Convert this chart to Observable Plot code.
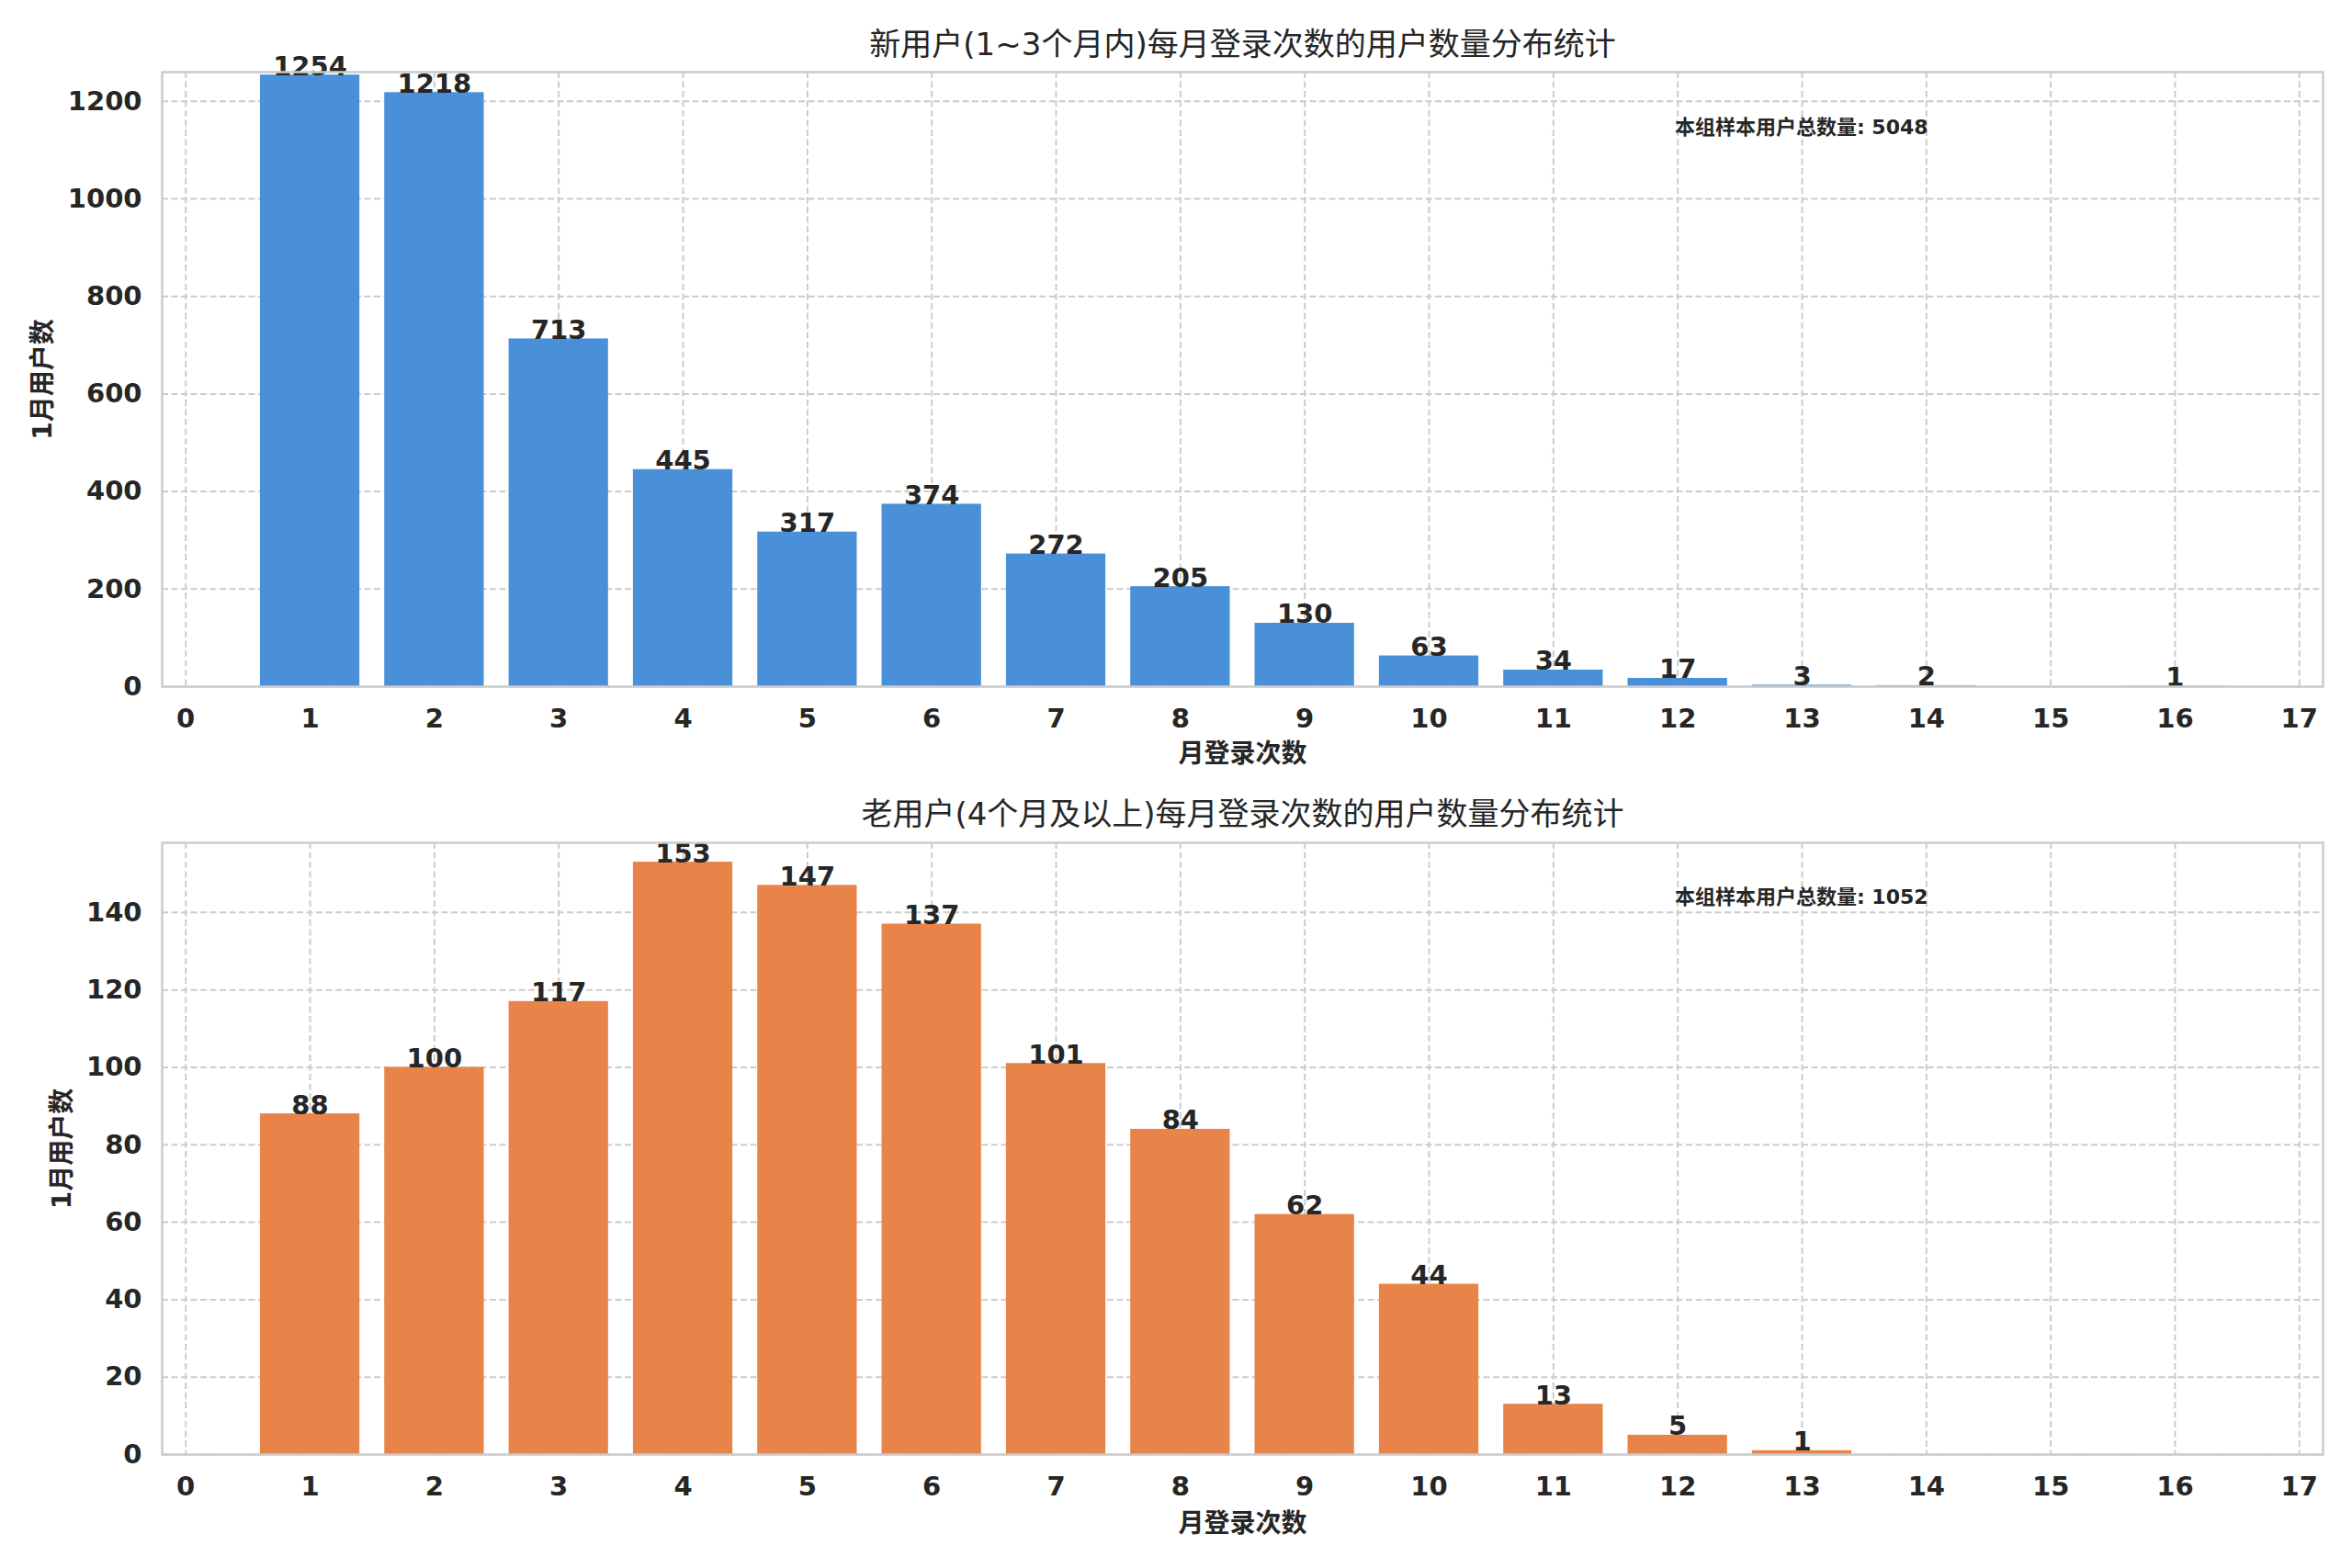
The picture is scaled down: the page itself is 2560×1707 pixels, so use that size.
<!DOCTYPE html>
<html>
<head>
<meta charset="utf-8">
<script src="https://cdn.jsdelivr.net/npm/d3@7"></script>
<script src="https://cdn.jsdelivr.net/npm/@observablehq/plot@0.6"></script>
<style>
  html, body { margin: 0; padding: 0; background: white; }
  #chart svg { display: block; }
</style>
</head>
<body>
<div id="chart"></div>
<script>
// ---- data ----
const xTickValues = [0,1,2,3,4,5,6,7,8,9,10,11,12,13,14,15,16,17];

const newCounts = [1,2,3,4,5,6,7,8,9,10,11,12,13,14,16];
const newValues = [1254,1218,713,445,317,374,272,205,130,63,34,17,3,2,1];
const newYTicks = [0,200,400,600,800,1000,1200];
const newTotal = 5048;
const newTitle = "新用户(1~3个月内)每月登录次数的用户数量分布统计";

const oldCounts = [1,2,3,4,5,6,7,8,9,10,11,12,13];
const oldValues = [88,100,117,153,147,137,101,84,62,44,13,5,1];
const oldYTicks = [0,20,40,60,80,100,120,140];
const oldTotal = 1052;
const oldTitle = "老用户(4个月及以上)每月登录次数的用户数量分布统计";

const xLabel = "月登录次数";
const yLabel = "1月用户数";
const totalLabel = "本组样本用户总数量";

const FONT = "'DejaVu Sans', 'Noto Sans CJK SC', sans-serif";
const INK = "#262626";

function panel({counts, values, color, title, total, yTicks, yMax, height, marginTop, marginBottom, yLabelDx, xLabelDy, titleDy}) {
  const data = counts.map((c, i) => ({x: c, y: values[i]}));
  const frameW = 2560 - 176 - 32;
  const frameH = height - marginTop - marginBottom;
  return Plot.plot({
    width: 2560,
    height,
    marginLeft: 176,
    marginRight: 32,
    marginTop,
    marginBottom,
    style: {fontFamily: FONT, fontSize: "29px", fontWeight: "bold", color: INK, background: "white", overflow: "visible"},
    x: {domain: [-0.19, 17.19], ticks: xTickValues, tickFormat: d => String(d), tickSize: 0, tickPadding: 24, label: null},
    y: {domain: [0, yMax], ticks: yTicks, tickFormat: d => String(d), tickSize: 0, tickPadding: 22, label: null},
    marks: [
      Plot.gridX(xTickValues, {stroke: "#cccccc", strokeOpacity: 1, strokeWidth: 2, strokeDasharray: "7,3.5"}),
      Plot.gridY(yTicks, {stroke: "#cccccc", strokeOpacity: 1, strokeWidth: 2, strokeDasharray: "7,3.5"}),
      Plot.rectY(data, {x1: d => d.x - 0.4, x2: d => d.x + 0.4, y: "y", fill: color}),
      Plot.text(data, {x: "x", y: "y", text: d => String(d.y), lineAnchor: "bottom", dy: 0, fontSize: 29, fontWeight: "bold", fill: INK}),
      Plot.frame({stroke: "#cccccc", strokeWidth: 2.5}),
      Plot.text([title], {text: d => d, frameAnchor: "top", dy: titleDy, textAnchor: "middle", lineAnchor: "middle", fontSize: 34, fontWeight: "normal", fill: INK}),
      Plot.text([xLabel], {text: d => d, frameAnchor: "bottom", dy: xLabelDy, textAnchor: "middle", lineAnchor: "middle", fontSize: 28, fontWeight: "bold", fill: INK}),
      Plot.text([yLabel], {text: d => d, frameAnchor: "left", dx: yLabelDx, rotate: -90, textAnchor: "middle", lineAnchor: "middle", fontSize: 28, fontWeight: "bold", fill: INK}),
      Plot.text([`${totalLabel}: ${total}`], {text: d => d, frameAnchor: "top-left", dx: 0.7 * frameW, dy: 0.09 * frameH, textAnchor: "start", lineAnchor: "middle", fontSize: 22, fontWeight: "bold", fill: INK})
    ]
  });
}

const root = document.getElementById("chart");
root.append(panel({
  counts: newCounts, values: newValues, color: "#4a90d9", title: newTitle, total: newTotal,
  yTicks: newYTicks, yMax: 1260, height: 853, marginTop: 78, marginBottom: 106,
  yLabelDx: -129, xLabelDy: 74, titleDy: -29
}));
root.append(panel({
  counts: oldCounts, values: oldValues, color: "#e8844a", title: oldTitle, total: oldTotal,
  yTicks: oldYTicks, yMax: 158, height: 854, marginTop: 64, marginBottom: 124,
  yLabelDx: -108, xLabelDy: 76, titleDy: -30
}));
</script>
</body>
</html>
